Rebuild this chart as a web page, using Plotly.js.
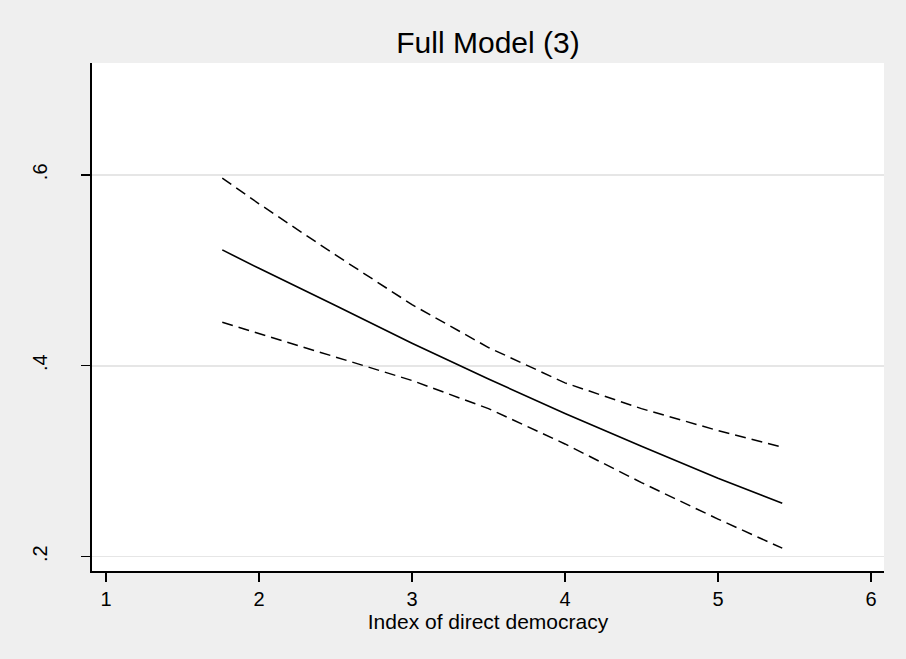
<!DOCTYPE html>
<html>
<head>
<meta charset="utf-8">
<script src="https://cdn.plot.ly/plotly-3.0.1.min.js"></script>
<style>html,body{margin:0;padding:0;background:#efefef;}#chart{width:906px;height:659px;}</style>
</head>
<body>
<div id="chart"></div>
<script>
var xIndex = [1.76, 2.0, 2.5, 3.0, 3.5, 4.0, 4.5, 5.0, 5.42];
var predicted = [0.5213, 0.502, 0.463, 0.4235, 0.386, 0.350, 0.3155, 0.282, 0.256];
var upperCI = [0.5965, 0.5696, 0.516, 0.464, 0.419, 0.382, 0.355, 0.332, 0.3147];
var lowerCI = [0.4455, 0.4336, 0.409, 0.3845, 0.355, 0.318, 0.2775, 0.2393, 0.2088];
var xTickVals = [1, 2, 3, 4, 5, 6];
var xTickText = ['1', '2', '3', '4', '5', '6'];
var yTickVals = [0.2, 0.4, 0.6];
var yTickText = ['.2', '.4', '.6'];

var font = 'Liberation Sans, Arial, sans-serif';
var traces = [
  {x: xIndex, y: upperCI, mode: 'lines', line: {color: '#000', width: 1.5, dash: '11px,6px'}, hoverinfo: 'none'},
  {x: xIndex, y: predicted, mode: 'lines', line: {color: '#000', width: 1.6}, hoverinfo: 'none'},
  {x: xIndex, y: lowerCI, mode: 'lines', line: {color: '#000', width: 1.5, dash: '11px,6px'}, hoverinfo: 'none'}
];
var layout = {
  width: 906, height: 659,
  paper_bgcolor: '#efefef', plot_bgcolor: '#ffffff',
  showlegend: false,
  margin: {l: 92, r: 22, t: 63, b: 88},
  font: {family: font, color: '#000'},
  title: {text: 'Full Model (3)', font: {family: font, size: 30, color: '#000'},
          x: 0.5, xref: 'paper', y: 1 - 42/659, yref: 'container', yanchor: 'middle'},
  xaxis: {
    range: [0.9086, 6.085], tickmode: 'array', tickvals: xTickVals, ticktext: xTickText,
    showgrid: false, zeroline: false, showline: true, linecolor: '#000', linewidth: 1.8,
    ticks: 'outside', ticklen: 9, tickwidth: 1.5, tickcolor: '#000',
    tickfont: {family: font, size: 20, color: '#000'},
    title: {text: 'Index of direct democracy', font: {family: font, size: 21, color: '#000'}, standoff: 2},
    automargin: false
  },
  yaxis: {
    range: [0.1849, 0.7171], tickmode: 'array', tickvals: yTickVals, ticktext: yTickText,
    showgrid: true, gridcolor: '#e6e6e6', gridwidth: 1.8, zeroline: false,
    showline: true, linecolor: '#000', linewidth: 1.8,
    ticks: 'outside', ticklen: 9, tickwidth: 1.5, tickcolor: '#000',
    tickangle: -90, tickfont: {family: font, size: 20, color: '#000'},
    ticklabelstandoff: 26,
    automargin: false
  }
};
Plotly.newPlot('chart', traces, layout, {displayModeBar: false, staticPlot: true});
</script>
</body>
</html>
